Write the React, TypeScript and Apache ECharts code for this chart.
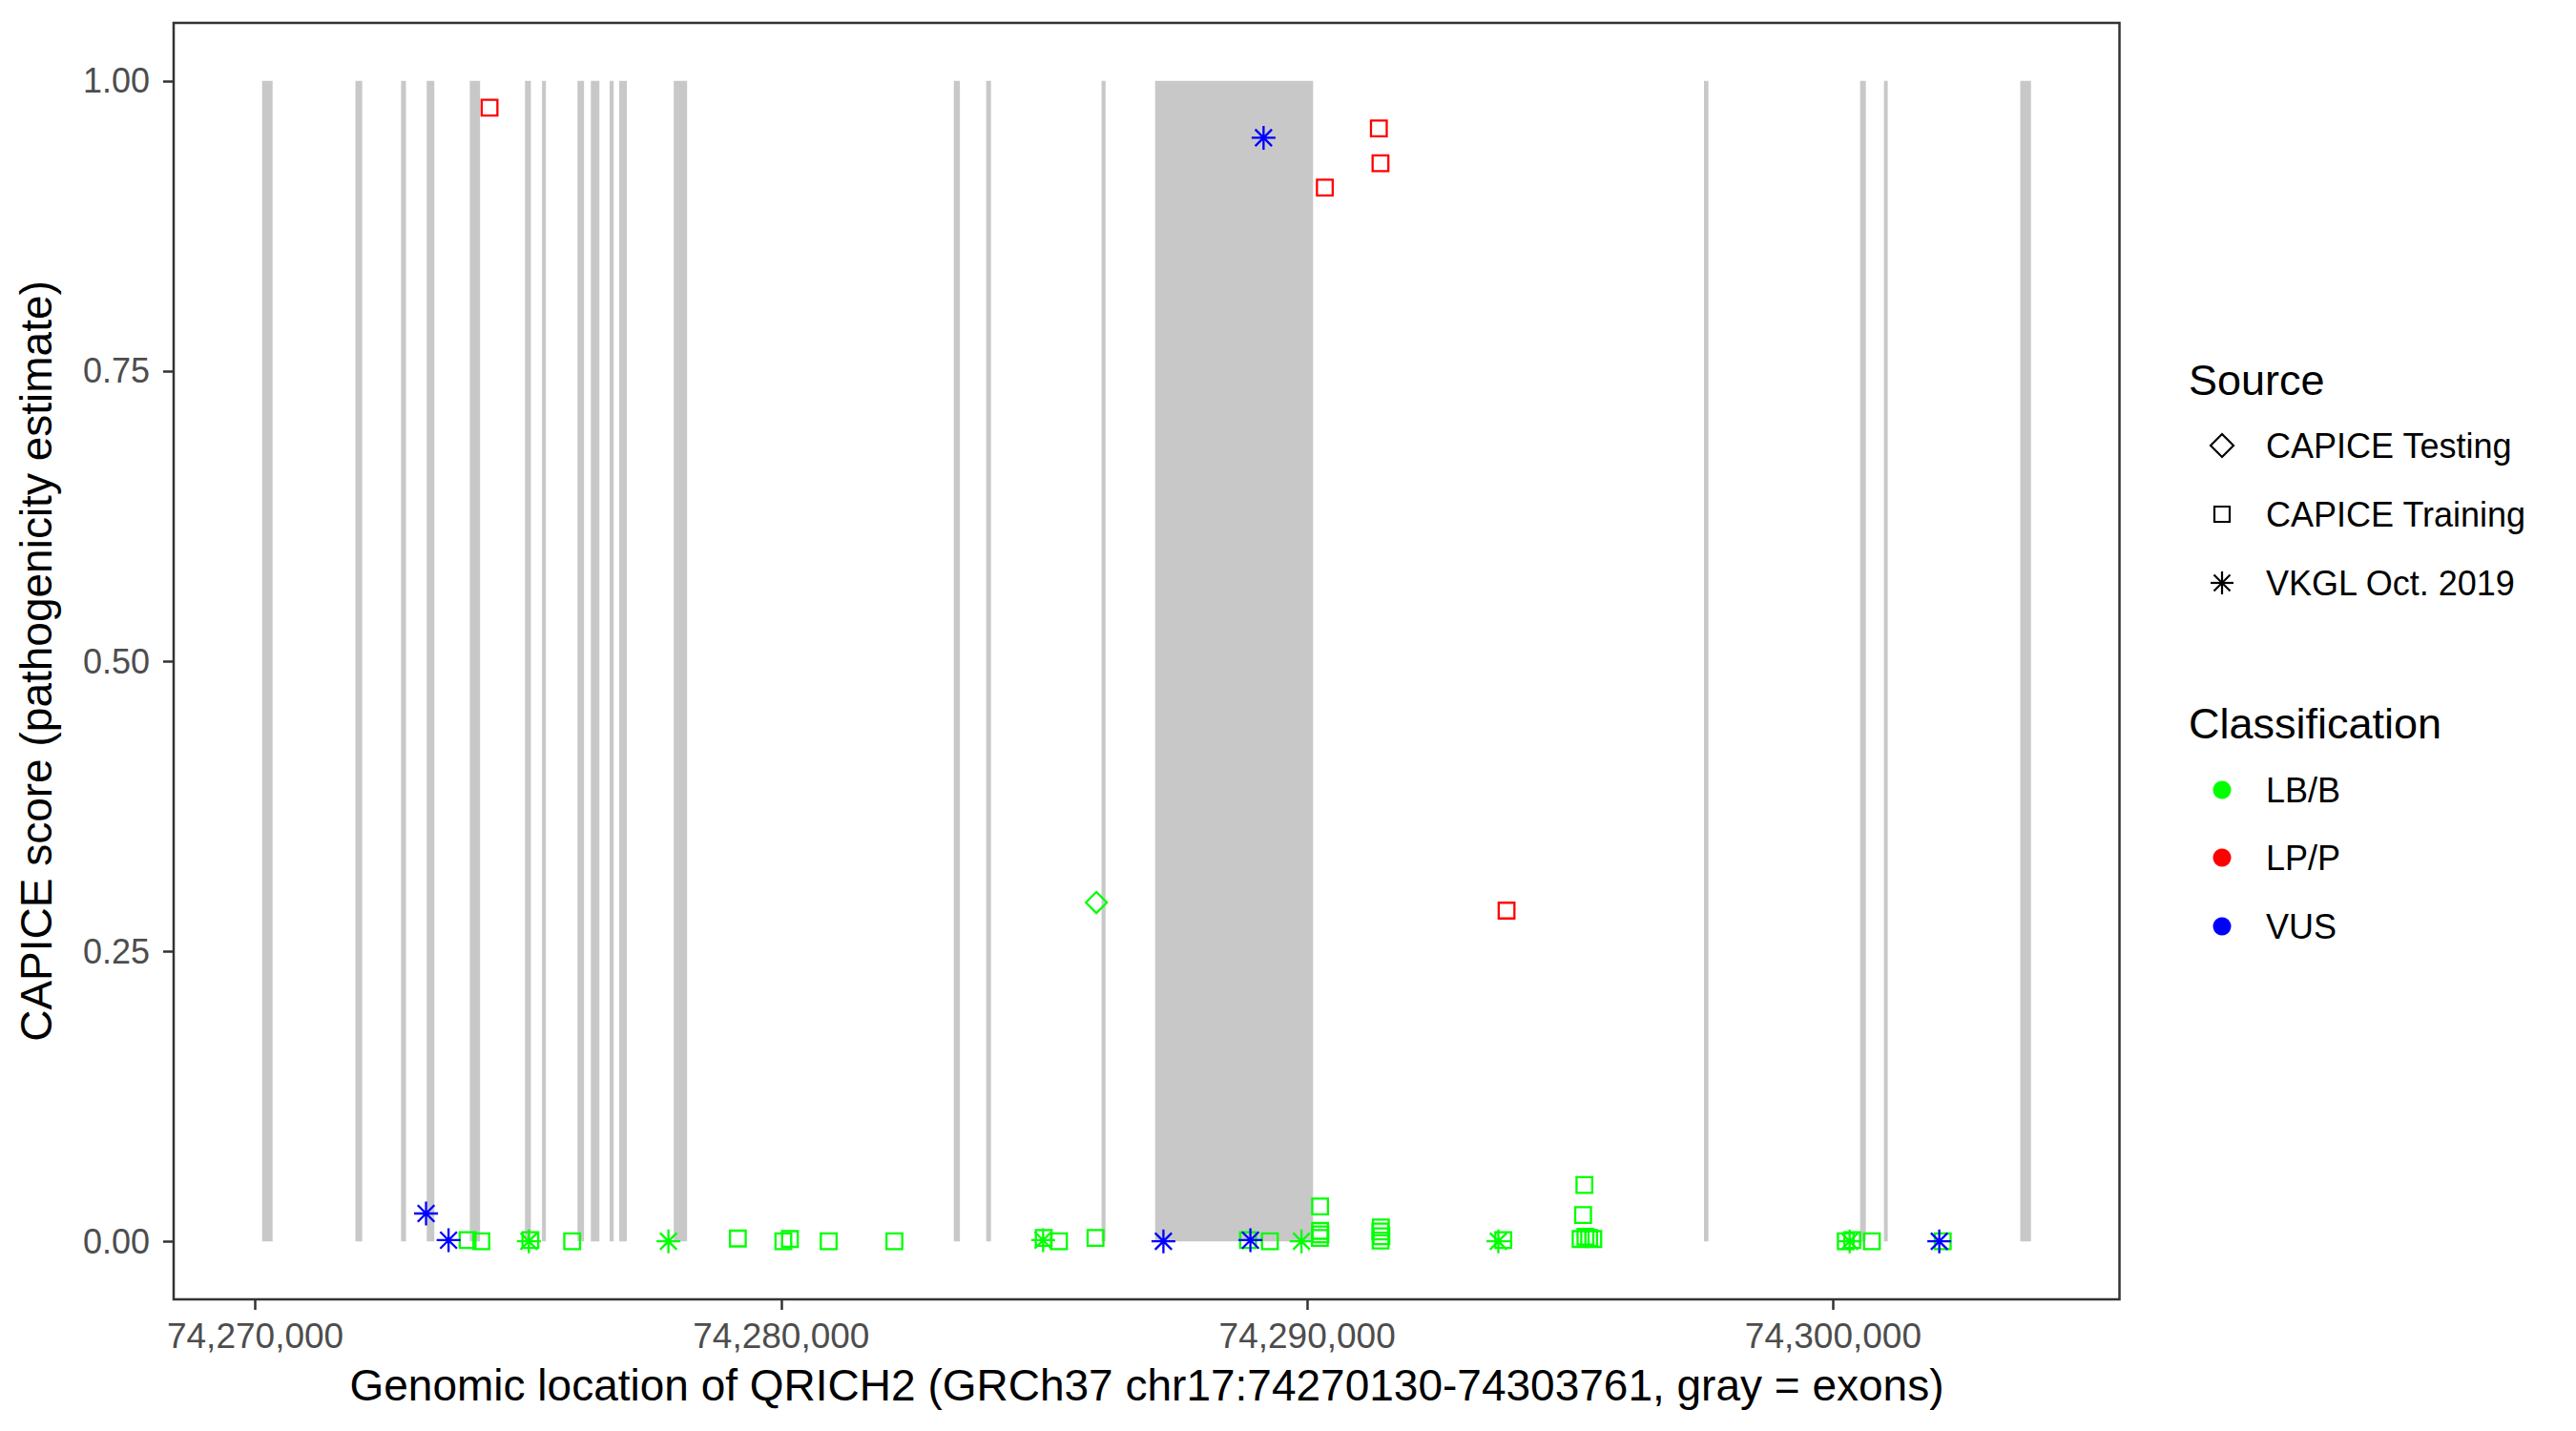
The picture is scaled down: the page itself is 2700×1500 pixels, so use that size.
import React, { useEffect, useRef } from "react";
import * as echarts from "echarts";

// Exons of QRICH2 (GRCh37), start / end positions
const exonStart = [74270130, 74271904, 74272772, 74273260, 74274079, 74275128, 74275452, 74276126, 74276380, 74276737, 74276920, 74277956, 74283281, 74283897, 74286090, 74287108, 74297544, 74300512, 74300965, 74303557];
const exonEnd = [74270330, 74272033, 74272865, 74273405, 74274274, 74275240, 74275526, 74276251, 74276543, 74276815, 74277065, 74278210, 74283397, 74283988, 74286166, 74290112, 74297628, 74300621, 74301037, 74303761];

// [genomic position, CAPICE score]
const trainingLPP = [[74274454, 0.977], [74290335, 0.908], [74291362, 0.959], [74291393, 0.929], [74293790, 0.285]];
const trainingLBB = [
  [74274037, 0.001], [74274298, 0.0], [74275230, 0.001], [74276025, 0.0], [74279175, 0.0024],
  [74280040, 0.0], [74280165, 0.002], [74280902, 0.0], [74282151, 0.0], [74284990, 0.003],
  [74285280, 0.0], [74285975, 0.003], [74288875, 0.001], [74289290, 0.0],
  [74290245, 0.030], [74290245, 0.009], [74290250, 0.006], [74290240, 0.003],
  [74291400, 0.012], [74291390, 0.0085], [74291410, 0.0044], [74291395, 0.0007],
  [74293727, 0.001], [74295270, 0.0486], [74295245, 0.0226],
  [74295198, 0.002], [74295290, 0.004], [74295360, 0.003], [74295439, 0.002],
  [74300240, 0.0], [74300362, 0.001], [74300735, 0.0], [74302083, 0.0]
];
const testingLBB = [[74285992, 0.292]];
const vkglLBB = [[74275202, 0.0], [74277855, 0.0], [74284979, 0.001], [74289891, 0.0], [74293634, 0.0], [74300313, 0.0]];
const vkglVUS = [[74273247, 0.024], [74273675, 0.001], [74287266, 0.0], [74288920, 0.001], [74289170, 0.951], [74302017, 0.0]];

const xTicks = [74270000, 74280000, 74290000, 74300000];
const yTicks = [0, 0.25, 0.5, 0.75, 1.0];

const GREEN = "#00FF00";
const RED = "#FF0000";
const BLUE = "#0000FF";
const FONT = "Liberation Sans, Arial, Helvetica, sans-serif";

const ASTERISK = "path://M12,0L12,24M0,12L24,12M3.6,3.6L20.4,20.4M3.6,20.4L20.4,3.6";

function fmtThousands(v: number) {
  return String(Math.round(v)).replace(/\B(?=(\d{3})+(?!\d))/g, ",");
}

function scatter(name: string, data: number[][], symbol: string, size: number, color: string) {
  return {
    name,
    type: "scatter",
    data,
    symbol,
    symbolSize: size,
    z: 3,
    itemStyle: { color: "transparent", borderColor: color, borderWidth: 2.3, opacity: 1 },
  };
}

export default function App() {
  const ref = useRef<HTMLDivElement>(null);
  useEffect(() => {
    if (!ref.current) return;
    const chart = echarts.init(ref.current, null, { renderer: "svg" });
    const exonData = exonStart.map((s, i) => [s, exonEnd[i]]);

    const lx = 2329;
    const tx = 2375;
    const astLines = (cy: number) => {
      const r = 12;
      const d = 8.5;
      return [
        [lx, cy - r, lx, cy + r],
        [lx - r, cy, lx + r, cy],
        [lx - d, cy - d, lx + d, cy + d],
        [lx - d, cy + d, lx + d, cy - d],
      ].map((p) => ({
        type: "line",
        shape: { x1: p[0], y1: p[1], x2: p[2], y2: p[3] },
        style: { stroke: "#000", lineWidth: 2.2 },
      }));
    };

    const legendText = (text: string, y: number, size: number, x: number) => ({
      type: "text",
      x,
      y,
      style: { text, fill: "#000", fontSize: size, fontFamily: FONT, verticalAlign: "middle", align: "left" },
    });

    const tickStyle = { color: "#333333", width: 2.5 };

    chart.setOption({
      animation: false,
      backgroundColor: "#FFFFFF",
      grid: {
        left: 182,
        top: 24,
        width: 2039.5,
        height: 1338,
        show: true,
        borderColor: "#333333",
        borderWidth: 2.5,
        backgroundColor: "transparent",
      },
      xAxis: {
        type: "value",
        position: "bottom",
        min: 74268448,
        max: 74305443,
        splitLine: { show: false },
        axisLine: { show: false, onZero: false },
        axisTick: {
          show: true,
          inside: false,
          customValues: xTicks,
          length: 11,
          lineStyle: tickStyle,
        },
        axisLabel: {
          customValues: xTicks,
          formatter: (v: number) => fmtThousands(v),
          fontSize: 37,
          color: "#4D4D4D",
          fontFamily: FONT,
          margin: 20,
        },
      },
      yAxis: {
        type: "value",
        position: "left",
        min: -0.05,
        max: 1.05,
        splitLine: { show: false },
        axisLine: { show: false, onZero: false },
        axisTick: {
          show: true,
          inside: false,
          customValues: yTicks,
          length: 11,
          lineStyle: tickStyle,
        },
        axisLabel: {
          customValues: yTicks,
          formatter: (v: number) => v.toFixed(2),
          fontSize: 36,
          color: "#4D4D4D",
          fontFamily: FONT,
          margin: 25,
        },
      },
      series: [
        {
          name: "exons",
          type: "custom",
          z: 1,
          data: exonData,
          encode: { x: [0, 1] },
          renderItem: (params: any, api: any) => {
            const a = api.coord([api.value(0), 1]);
            const b = api.coord([api.value(1), 0]);
            return {
              type: "rect",
              shape: { x: a[0], y: a[1], width: Math.max(b[0] - a[0], 1), height: b[1] - a[1] },
              style: { fill: "#C8C8C8" },
            };
          },
        },
        scatter("CAPICE Training LB/B", trainingLBB, "rect", 16.5, GREEN),
        scatter("VKGL LB/B", vkglLBB, ASTERISK, 25, GREEN),
        scatter("CAPICE Testing LB/B", testingLBB, "diamond", 22, GREEN),
        scatter("CAPICE Training LP/P", trainingLPP, "rect", 16.5, RED),
        scatter("VKGL VUS", vkglVUS, ASTERISK, 25, BLUE),
      ],
      graphic: [
        {
          type: "text",
          x: 1202,
          y: 1452,
          style: {
            text: "Genomic location of QRICH2 (GRCh37 chr17:74270130-74303761, gray = exons)",
            fill: "#000",
            fontSize: 46,
            fontFamily: FONT,
            align: "center",
            verticalAlign: "middle",
          },
        },
        {
          type: "text",
          x: 38,
          y: 693,
          rotation: Math.PI / 2,
          style: {
            text: "CAPICE score (pathogenicity estimate)",
            fill: "#000",
            fontSize: 46,
            fontFamily: FONT,
            align: "center",
            verticalAlign: "middle",
          },
        },
        legendText("Source", 398, 45, 2294),
        {
          type: "polygon",
          shape: { points: [[lx, 455], [lx + 12, 467], [lx, 479], [lx - 12, 467]] },
          style: { fill: "none", stroke: "#000", lineWidth: 2.2 },
        },
        legendText("CAPICE Testing", 467, 36, tx),
        {
          type: "rect",
          shape: { x: lx - 8, y: 539 - 8, width: 16, height: 16 },
          style: { fill: "none", stroke: "#000", lineWidth: 2.2 },
        },
        legendText("CAPICE Training", 539, 36, tx),
        ...astLines(611),
        legendText("VKGL Oct. 2019", 611, 36, tx),
        legendText("Classification", 758, 45, 2294),
        { type: "circle", shape: { cx: lx, cy: 828, r: 9.5 }, style: { fill: GREEN } },
        legendText("LB/B", 828, 36, tx),
        { type: "circle", shape: { cx: lx, cy: 899, r: 9.5 }, style: { fill: RED } },
        legendText("LP/P", 899, 36, tx),
        { type: "circle", shape: { cx: lx, cy: 971, r: 9.5 }, style: { fill: BLUE } },
        legendText("VUS", 971, 36, tx),
      ],
    });
    return () => chart.dispose();
  }, []);
  return (
    <div
      ref={ref}
      style={{ position: "fixed", left: 0, top: 0, width: 2700, height: 1500, background: "#fff" }}
    />
  );
}
